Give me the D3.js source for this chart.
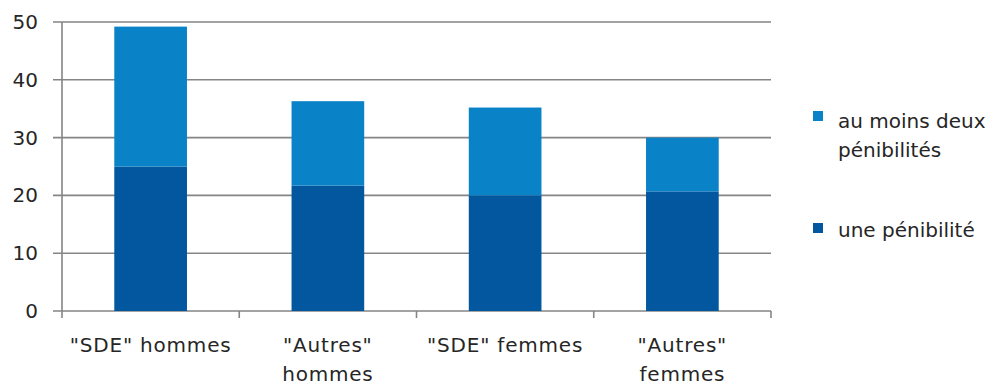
<!DOCTYPE html>
<html>
<head>
<meta charset="utf-8">
<script src="https://cdn.jsdelivr.net/npm/d3@7/dist/d3.min.js"></script>
<style>
  html, body { margin: 0; padding: 0; background: #fff; }
  svg { display: block; font-family: "DejaVu Sans", Verdana, sans-serif; }
</style>
</head>
<body>
<svg id="chart" width="997" height="387"></svg>
<script>
// Categories (line breaks split the axis labels)
const categories = ['"SDE" hommes', '"Autres" hommes', '"SDE" femmes', '"Autres" femmes'];
const categoryLines = [['"SDE" hommes'], ['"Autres"', 'hommes'], ['"SDE" femmes'], ['"Autres"', 'femmes']];

// Series values (%), stacked bottom to top
const unePenibilite = [25.0, 21.7, 20.0, 20.7];
const auMoinsDeux = [24.2, 14.6, 15.2, 9.3];

const seriesNames = ["une pénibilité", "au moins deux pénibilités"];
const seriesColors = ["#02579e", "#0a82c8"];

const yTicks = [0, 10, 20, 30, 40, 50];

const svg = d3.select("#chart");
const plot = { left: 62, right: 771, top: 22, bottom: 311 };

const x = d3.scaleBand().domain(categories).range([plot.left, plot.right]).padding(0);
const y = d3.scaleLinear().domain([0, 50]).range([plot.bottom, plot.top]);
const barW = x.bandwidth() * 0.41;

const gridColor = "#858585";
const textColor = "#262626";

// Horizontal gridlines with short left ticks
svg.append("g").selectAll("line").data(yTicks).join("line")
  .attr("x1", plot.left - 9).attr("x2", plot.right)
  .attr("y1", d => y(d)).attr("y2", d => y(d))
  .attr("stroke", gridColor).attr("stroke-width", 1.6);

// Vertical axis line
svg.append("line")
  .attr("x1", plot.left).attr("x2", plot.left)
  .attr("y1", y(50)).attr("y2", y(0))
  .attr("stroke", gridColor).attr("stroke-width", 1.6);

// Category tick marks below the baseline
const boundaries = categories.map(c => x(c)).concat([plot.right]);
svg.append("g").selectAll("line").data(boundaries).join("line")
  .attr("x1", d => d).attr("x2", d => d)
  .attr("y1", y(0)).attr("y2", y(0) + 7)
  .attr("stroke", gridColor).attr("stroke-width", 1.6);

// Y tick labels
svg.append("g").selectAll("text").data(yTicks).join("text")
  .attr("x", 38).attr("y", d => y(d) + 7)
  .attr("text-anchor", "end")
  .attr("font-size", 20).attr("fill", textColor)
  .text(d => d);

// Stacked bars
const stackData = categories.map((c, i) => ({ cat: c, une: unePenibilite[i], deux: auMoinsDeux[i] }));
const stacked = d3.stack().keys(["une", "deux"])(stackData);

svg.append("g").selectAll("g").data(stacked).join("g")
  .attr("fill", (d, i) => seriesColors[i])
  .selectAll("rect").data(d => d).join("rect")
  .attr("x", d => x(d.data.cat) + (x.bandwidth() - barW) / 2)
  .attr("width", barW)
  .attr("y", d => y(d[1]))
  .attr("height", d => y(d[0]) - y(d[1]));

// Category labels
const catG = svg.append("g").selectAll("text").data(categories).join("text")
  .attr("text-anchor", "middle")
  .attr("font-size", 20).attr("fill", textColor)
  .attr("letter-spacing", 0.8);
catG.each(function (c, i) {
  const t = d3.select(this);
  categoryLines[i].forEach((line, j) => {
    t.append("tspan")
      .attr("x", x(c) + x.bandwidth() / 2)
      .attr("y", 352 + j * 29)
      .text(line);
  });
});

// Legend
const legend = svg.append("g");
const legendItems = [
  { color: seriesColors[1], lines: ["au moins deux", "pénibilités"], top: 111, base: 128 },
  { color: seriesColors[0], lines: ["une pénibilité"], top: 223, base: 237 }
];
legendItems.forEach(item => {
  legend.append("rect")
    .attr("x", 813).attr("y", item.top)
    .attr("width", 10).attr("height", 10)
    .attr("fill", item.color);
  const t = legend.append("text")
    .attr("font-size", 20).attr("fill", textColor);
  item.lines.forEach((line, j) => {
    t.append("tspan").attr("x", 838).attr("y", item.base + j * 29).text(line);
  });
});
</script>
</body>
</html>
